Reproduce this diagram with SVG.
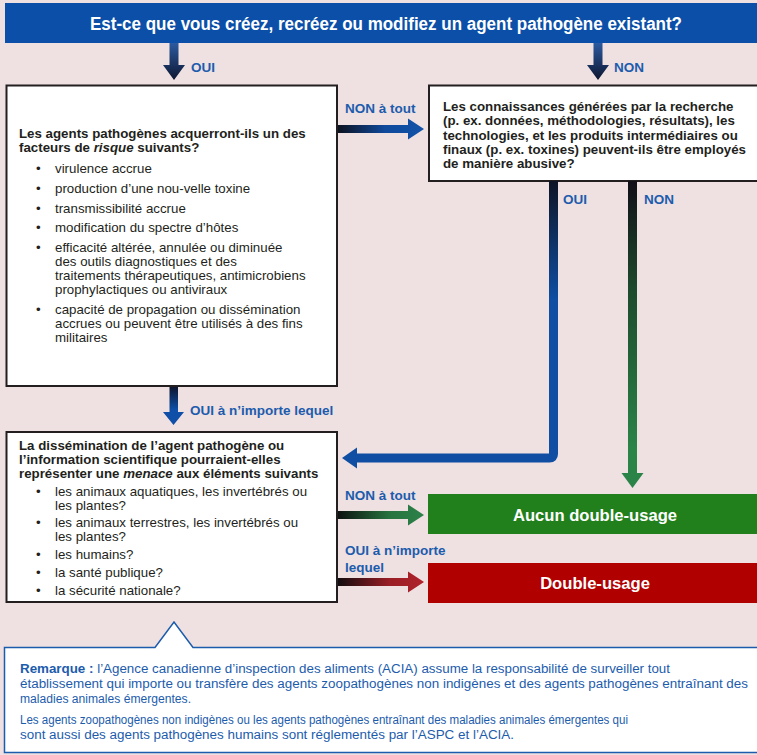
<svg xmlns="http://www.w3.org/2000/svg" width="757" height="755" viewBox="0 0 757 755">
<defs>
<linearGradient id="gTop" x1="0" y1="0" x2="0" y2="1"><stop offset="0" stop-color="#2c5aa0"/><stop offset="1" stop-color="#0d1630"/></linearGradient>
<linearGradient id="gDownBlue" x1="0" y1="0" x2="0" y2="1"><stop offset="0" stop-color="#0d1630"/><stop offset="0.6" stop-color="#0f4fa8"/><stop offset="1" stop-color="#0f4fa8"/></linearGradient>
<linearGradient id="gRightBlue" x1="0" y1="0" x2="1" y2="0"><stop offset="0" stop-color="#0d1220"/><stop offset="0.55" stop-color="#0f4a9c"/><stop offset="1" stop-color="#1152a8"/></linearGradient>
<linearGradient id="gRightGreen" x1="0" y1="0" x2="1" y2="0"><stop offset="0" stop-color="#0d1210"/><stop offset="0.6" stop-color="#27733f"/><stop offset="1" stop-color="#2c8149"/></linearGradient>
<linearGradient id="gRightRed" x1="0" y1="0" x2="1" y2="0"><stop offset="0" stop-color="#120d10"/><stop offset="0.6" stop-color="#9a1e25"/><stop offset="1" stop-color="#b0222a"/></linearGradient>
<linearGradient id="gOuiLine" gradientUnits="userSpaceOnUse" x1="0" y1="181" x2="0" y2="300"><stop offset="0" stop-color="#0d1425"/><stop offset="1" stop-color="#0f4ea3"/></linearGradient>
<linearGradient id="gNonLine" gradientUnits="userSpaceOnUse" x1="0" y1="181" x2="0" y2="450"><stop offset="0" stop-color="#110f18"/><stop offset="0.4" stop-color="#1d4a2c"/><stop offset="1" stop-color="#2a8448"/></linearGradient>
</defs>
<style>
.box{fill:#ffffff;stroke:#231f20;stroke-width:2}
.q{font-family:"Liberation Sans",Arial,sans-serif;font-size:13.3px;font-weight:bold;fill:#231f20}
.it{font-family:"Liberation Sans",Arial,sans-serif;font-size:13.3px;fill:#231f20}
.lbl{font-family:"Liberation Sans",Arial,sans-serif;font-size:13.5px;font-weight:bold;fill:#1c5cad}
.res{font-family:"Liberation Sans",Arial,sans-serif;font-size:16.6px;font-weight:bold;fill:#ffffff;text-anchor:middle}
.note{font-family:"Liberation Sans",Arial,sans-serif;font-size:12.5px;fill:#1c5cad}
</style>
<rect x="0" y="0" width="757" height="755" fill="#efe0e1"/>

<g id="question-top">
<rect x="5" y="3" width="760" height="40" fill="#0b4fa8"/>
<text x="386" y="30" font-family="'Liberation Sans Narrow','Liberation Sans',Arial,sans-serif" font-size="18px" font-weight="bold" fill="#ffffff" text-anchor="middle" textLength="592" lengthAdjust="spacingAndGlyphs">Est-ce que vous créez, recréez ou modifiez un agent pathogène existant?</text>
</g>

<g id="risk-box">
<rect class="box" x="6.5" y="85.5" width="330.5" height="300.5"/>
<text class="q" x="19" y="138">Les agents pathogènes acquerront-ils un des</text>
<text class="q" x="19" y="152">facteurs de <tspan font-style="italic">risque</tspan> suivants?</text>
<g class="it">
<text x="36" y="172.5">•</text><text x="55" y="172.5">virulence accrue</text>
<text x="36" y="192.5">•</text><text x="55" y="192.5">production d’une nou-velle toxine</text>
<text x="36" y="212.5">•</text><text x="55" y="212.5">transmissibilité accrue</text>
<text x="36" y="232">•</text><text x="55" y="232">modification du spectre d’hôtes</text>
<text x="36" y="251.7">•</text><text x="55" y="251.7">efficacité altérée, annulée ou diminuée</text>
<text x="55" y="265.5">des outils diagnostiques et des</text>
<text x="55" y="279.7">traitements thérapeutiques, antimicrobiens</text>
<text x="55" y="294">prophylactiques ou antiviraux</text>
<text x="36" y="313.7">•</text><text x="55" y="313.7">capacité de propagation ou dissémination</text>
<text x="55" y="327.5">accrues ou peuvent être utilisés à des fins</text>
<text x="55" y="341.5">militaires</text>
</g>
</g>

<g id="misuse-box">
<rect class="box" x="429" y="85.5" width="340" height="95.5"/>
<text class="q" x="443" y="110.5">Les connaissances générées par la recherche</text>
<text class="q" x="443" y="125">(p. ex. données, méthodologies, résultats), les</text>
<text class="q" x="443" y="139.5">technologies, et les produits intermédiaires ou</text>
<text class="q" x="443" y="153.5">finaux (p. ex. toxines) peuvent-ils être employés</text>
<text class="q" x="443" y="167.5">de manière abusive?</text>
</g>

<g id="threat-box">
<rect class="box" x="6.5" y="432" width="330.5" height="170"/>
<text class="q" x="19" y="449.7">La dissémination de l’agent pathogène ou</text>
<text class="q" x="19" y="463.7">l’information scientifique pourraient-elles</text>
<text class="q" x="19" y="477.7">représenter une <tspan font-style="italic">menace</tspan> aux éléments suivants</text>
<g class="it">
<text x="36" y="495.5">•</text><text x="55" y="495.5">les animaux aquatiques, les invertébrés ou</text>
<text x="55" y="509.7">les plantes?</text>
<text x="36" y="526.5">•</text><text x="55" y="526.5">les animaux terrestres, les invertébrés ou</text>
<text x="55" y="540.7">les plantes?</text>
<text x="36" y="558.5">•</text><text x="55" y="558.5">les humains?</text>
<text x="36" y="577">•</text><text x="55" y="577">la santé publique?</text>
<text x="36" y="594.5">•</text><text x="55" y="594.5">la sécurité nationale?</text>
</g>
</g>

<g id="no-dual-use">
<rect x="428" y="494" width="340" height="40" fill="#21801b"/>
<text class="res" x="595" y="521">Aucun double-usage</text>
</g>

<g id="dual-use">
<rect x="428" y="563" width="340" height="40" fill="#b10000"/>
<text class="res" x="595" y="589">Double-usage</text>
</g>

<g id="note">
<path d="M4.5,752.5 V647.5 H155 L174,622 L193,647.5 H770 V752.5 Z" fill="#ffffff" stroke="#1c5cad" stroke-width="1.5"/>
<text class="note" x="20" y="673" textLength="650" lengthAdjust="spacingAndGlyphs"><tspan font-weight="bold">Remarque :</tspan> l’Agence canadienne d’inspection des aliments (ACIA) assume la responsabilité de surveiller tout</text>
<text class="note" x="20" y="688" textLength="728" lengthAdjust="spacingAndGlyphs">établissement qui importe ou transfère des agents zoopathogènes non indigènes et des agents pathogènes entraînant des</text>
<text class="note" x="20" y="702.5" textLength="171" lengthAdjust="spacingAndGlyphs">maladies animales émergentes.</text>
<text class="note" x="20" y="724" textLength="608" lengthAdjust="spacingAndGlyphs">Les agents zoopathogènes non indigènes ou les agents pathogènes entraînant des maladies animales émergentes qui</text>
<text class="note" x="20" y="739" textLength="494" lengthAdjust="spacingAndGlyphs">sont aussi des agents pathogènes humains sont réglementés par l’ASPC et l’ACIA.</text>
</g>

<g id="connectors">
<polygon points="169.5,43 178.5,43 178.5,65 185,65 174,80 163,65 169.5,65" fill="url(#gTop)"/>
<text class="lbl" x="191" y="71.5">OUI</text>
<polygon points="593.5,43 602.5,43 602.5,65 609,65 598,80 587,65 593.5,65" fill="url(#gTop)"/>
<text class="lbl" x="614" y="71.5">NON</text>

<polygon points="338,125 408,125 408,118.5 424,129 408,139.5 408,133 338,133" fill="url(#gRightBlue)"/>
<text class="lbl" x="345" y="112.5">NON à tout</text>

<polygon points="169.5,387 178,387 178,412 184,412 173.5,425 163,412 169.5,412" fill="url(#gDownBlue)"/>
<text class="lbl" x="190" y="415">OUI à n’importe lequel</text>

<path d="M553.5,181 V454 Q553.5,458 549.5,458 H355" fill="none" stroke="url(#gOuiLine)" stroke-width="9"/>
<polygon points="357,447.5 342,458 357,468.5" fill="#0f4ea3"/>
<text class="lbl" x="563" y="203.5">OUI</text>

<rect x="628" y="181" width="9" height="293" fill="url(#gNonLine)"/>
<polygon points="621.5,473 643.5,473 632.5,488" fill="#2a8448"/>
<text class="lbl" x="644" y="203.5">NON</text>

<polygon points="338,511 408,511 408,504.5 424,515 408,525.5 408,519 338,519" fill="url(#gRightGreen)"/>
<text class="lbl" x="345" y="499.5">NON à tout</text>

<polygon points="338,578 408,578 408,571.5 424,582 408,592.5 408,586 338,586" fill="url(#gRightRed)"/>
<text class="lbl" x="345" y="555">OUI à n’importe</text>
<text class="lbl" x="345" y="572">lequel</text>
</g>
</svg>
